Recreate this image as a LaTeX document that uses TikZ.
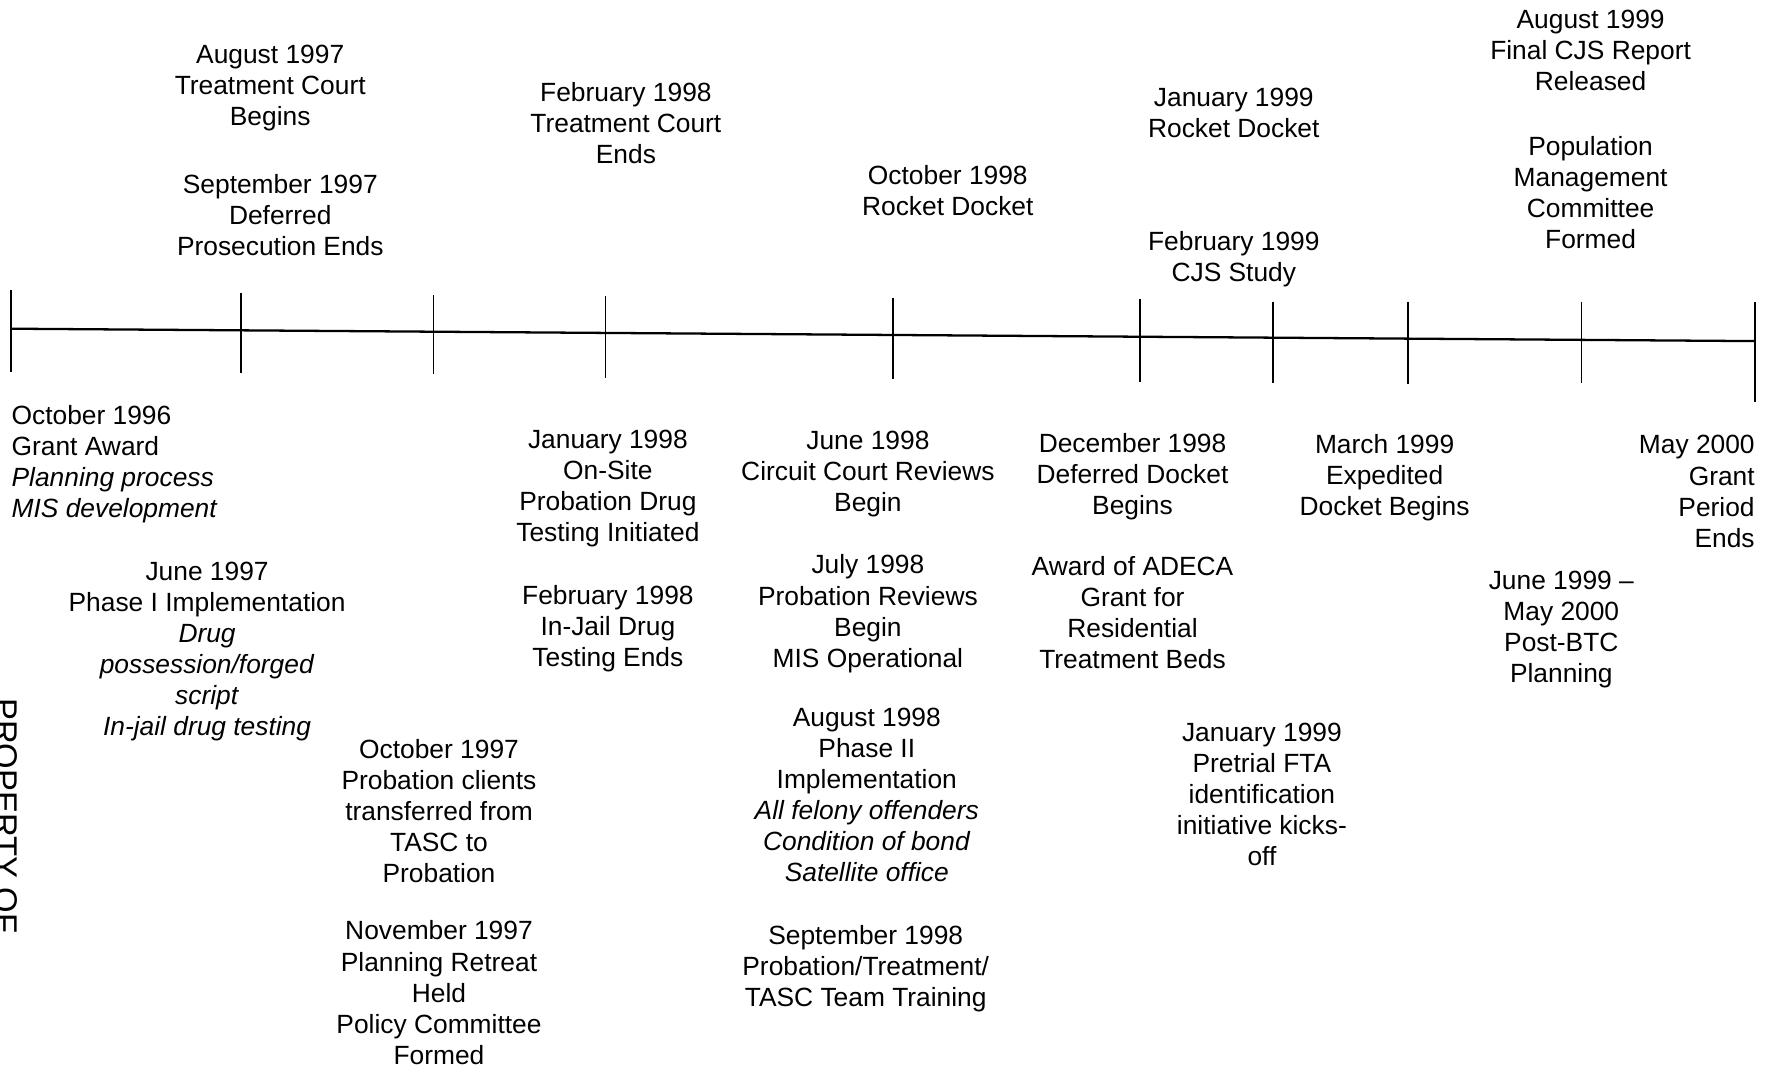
\documentclass[tikz,border=0pt]{standalone}
\usepackage{fontspec}
\setmainfont{Liberation Sans}
\begin{document}
\begin{tikzpicture}[x=0.02cm, y=-0.02cm,
    event/.style={inner sep=0pt, anchor=north, align=center,
      font=\fontsize{15}{17.7}\selectfont},
    tickmark/.style={line width=1pt}]
  % Page size of the scan
  \useasboundingbox (0,0) rectangle (1765,1068);

  % Time line from first to last tick
  \coordinate (start) at (11.3,328.7);
  \coordinate (stop) at (1755,341.1);
  \draw[line width=1.3pt] (start) -- (stop);

  % Tick marks: x / top / bottom
  \foreach \tx/\ta/\tb in {11.3/290.4/371.5, 240.9/292.7/372.6,
      433.4/294.9/373.7, 605.6/296.1/378.2, 892.7/298.3/379.4,
      1140.3/299.4/381.6, 1273.2/301.7/382.7, 1408.3/301.7/383.9,
      1581.6/301.7/382.7, 1755/301.7/401.9}
    \draw[tickmark] (\tx,\ta) -- (\tx,\tb);

  % Events above the line
  \node[event] (aug97) at (270.2,44.6) {August 1997\\Treatment Court\\Begins};
  \node[event] (sep97) at (280.3,174.0) {September 1997\\Deferred\\Prosecution Ends};
  \node[event] (feb98a) at (625.9,81.7) {February 1998\\Treatment Court\\Ends};
  \node[event] (oct98) at (947.8,165.0) {October 1998\\Rocket Docket};
  \node[event] (jan99a) at (1233.8,87.4) {January 1999\\Rocket Docket};
  \node[event] (feb99) at (1233.8,231.4) {February 1999\\CJS Study};
  \node[event] (aug99) at (1590.6,9.7) {August 1999\\Final CJS Report\\Released};
  \node[event] (popmgmt) at (1590.6,135.8) {Population\\Management\\Committee\\Formed};

  % Events below the line
  \node[event, anchor=north west, align=left] (oct96) at (11.3,404.8)
    {October 1996\\Grant Award\\\textit{Planning process}\\\textit{MIS development}};
  \node[event] (jun97) at (207.1,561.3) {June 1997\\Phase I Implementation\\
    \textit{Drug}\\\textit{possession/forged}\\\textit{script}\\\textit{In-jail drug testing}};
  \node[event] (oct97) at (439.0,739.1)
    {October 1997\\Probation clients\\transferred from\\TASC to\\Probation};
  \node[event] (nov97) at (439.0,920.5)
    {November 1997\\Planning Retreat\\Held\\Policy Committee\\Formed};
  \node[event] (jan98) at (607.9,429.6)
    {January 1998\\On-Site\\Probation Drug\\Testing Initiated};
  \node[event] (feb98b) at (607.9,584.9) {February 1998\\In-Jail Drug\\Testing Ends};
  \node[event] (jun98) at (867.9,430.7) {June 1998\\Circuit Court Reviews\\Begin};
  \node[event] (jul98) at (867.9,554.5)
    {July 1998\\Probation Reviews\\Begin\\MIS Operational};
  \node[event] (aug98) at (866.8,707.6) {August 1998\\Phase II\\Implementation\\
    \textit{All felony offenders}\\\textit{Condition of bond}\\\textit{Satellite office}};
  \node[event] (sep98) at (865.7,924.9)
    {September 1998\\Probation/Treatment/\\TASC Team Training};
  \node[event] (dec98) at (1132.5,432.9) {December 1998\\Deferred Docket\\Begins};
  \node[event] (adeca) at (1132.5,555.6)
    {Award of ADECA\\Grant for\\Residential\\Treatment Beds};
  \node[event] (jan99b) at (1261.9,722.3)
    {January 1999\\Pretrial FTA\\identification\\initiative kicks-\\off};
  \node[event] (mar99) at (1384.6,434.1) {March 1999\\Expedited\\Docket Begins};
  \node[event] (jun99) at (1561.3,570.3) {June 1999 --\\May 2000\\Post-BTC\\Planning};
  \node[event, anchor=north east, align=right] (may00) at (1755,435.2)
    {May 2000\\Grant\\Period\\Ends};

  % Stamp cut by the left edge
  \node[rotate=-90, anchor=base west, inner sep=0pt,
    font=\fontsize{18.7}{20}\selectfont] (stamp) at (-6,698) {PROPERTY OF};
\end{tikzpicture}
\end{document}
